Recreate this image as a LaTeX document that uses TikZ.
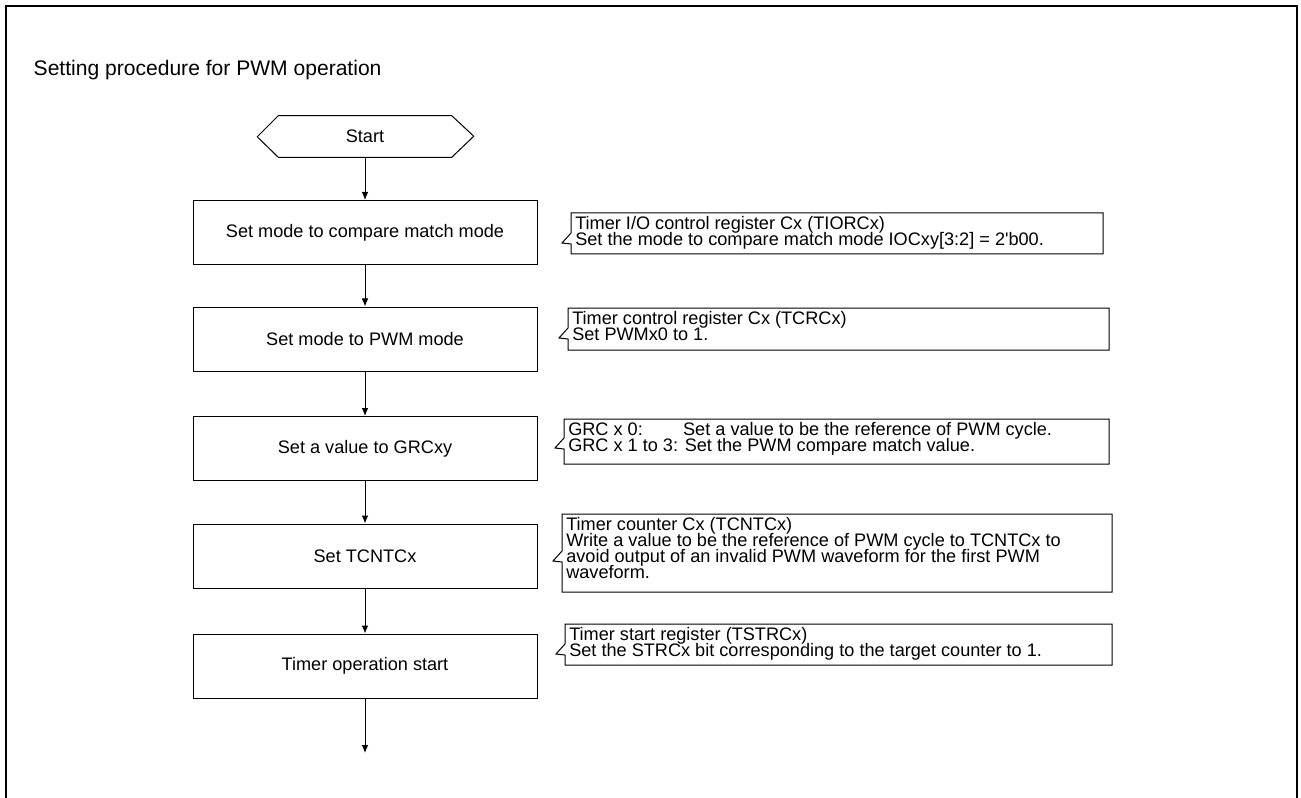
\documentclass[tikz,border=0pt]{standalone}
\usepackage{fontspec}
\setmainfont{Liberation Sans}
\usetikzlibrary{positioning,calc,arrows.meta}
\setlength{\lineskiplimit}{-20pt}
\tikzset{stepbox/.style={draw,line width=0.75pt,minimum width=258pt,minimum height=48pt,inner sep=0pt,font=\fontsize{13.6}{16}\selectfont}}
\tikzset{startbox/.style={minimum width=129.75pt,minimum height=30.75pt,inner sep=0pt,font=\fontsize{13.6}{16}\selectfont}}
\tikzset{notetxt/.style={anchor=north west,inner xsep=3pt,inner ysep=2pt,align=left,font=\fontsize{13.6}{12}\selectfont}}
\tikzset{frm/.style={line width=0.75pt}}
\tikzset{>={Latex[length=6pt,width=5pt]}}
\newcommand{\apos}{\XeTeXglyph\XeTeXcharglyph"27\relax}
\newcommand{\notefrm}[4]{%
  \draw[frm] ($(#1.north west)+(0,#4)$) -- (#1.north west) -- (#2,0 |- #1.north west) -- (#2,#3)
    -- (#1.north west |- 0,#3) -- ($(#1.north west)+(0,#4+11)$) -- ($(#1.north west)+(-9,#4+10)$) -- cycle;}

\begin{document}
\begin{tikzpicture}[x=0.75pt,y=-0.75pt]
	\useasboundingbox (0,0) rectangle (1301,798);
	\draw[line width=1.5pt] (6,798) -- (6,6) -- (1297,6) -- (1297,798);
	\node[anchor=west,font=\fontsize{15.8}{18}\selectfont] (title) at (29,70) {Setting procedure for PWM operation};

	\node[startbox] (start) at (365,136.5) {Start};
	\draw[frm] (start.north west) -- (start.north east) -- ++(22,20.5) -- (start.south east)
		-- (start.south west) -- ++(-21,-20.5) -- cycle;

	\node[stepbox] (s1) at (365,232.5) {Set mode to compare match mode};
	\node[stepbox] (s2) at (365,339) {Set mode to PWM mode};
	\node[stepbox] (s3) at (365,448.5) {Set a value to GRCxy};
	\node[stepbox] (s4) at (365,556) {Set TCNTCx};
	\node[stepbox] (s5) at (365,666) {Timer operation start};
	\coordinate (end) at (365,753);

	\draw[->,frm] (start) -- (s1);
	\draw[->,frm] (s1) -- (s2);
	\draw[->,frm] (s2) -- (s3);
	\draw[->,frm] (s3) -- (s4);
	\draw[->,frm] (s4) -- (s5);
	\draw[->,frm] (s5) -- (end);

	\node[notetxt] (n1) at (571,213) {Timer I/O control register Cx (TIORCx)\\Set the mode to compare match mode IOCxy[3:2] = 2\apos b00.};
	\notefrm{n1}{1103}{254}{20}
	\node[notetxt] (n2) at (568,308) {Timer control register Cx (TCRCx)\\Set PWMx0 to 1.};
	\notefrm{n2}{1109}{350}{20}
	\node[notetxt] (n3) at (564,419) {\rlap{GRC x 0:}\phantom{GRC x 1 to 3:} Set a value to be the reference of PWM cycle.\\GRC x 1 to 3: Set the PWM compare match value.};
	\notefrm{n3}{1109}{464}{19}
	\node[notetxt] (n4) at (562,514) {Timer counter Cx (TCNTCx)\\Write a value to be the reference of PWM cycle to TCNTCx to\\avoid output of an invalid PWM waveform for the first PWM\\waveform.};
	\notefrm{n4}{1112}{592}{37}
	\node[notetxt] (n5) at (565,624) {Timer start register (TSTRCx)\\Set the STRCx bit corresponding to the target counter to 1.};
	\notefrm{n5}{1112}{665}{20}
\end{tikzpicture}
\end{document}
